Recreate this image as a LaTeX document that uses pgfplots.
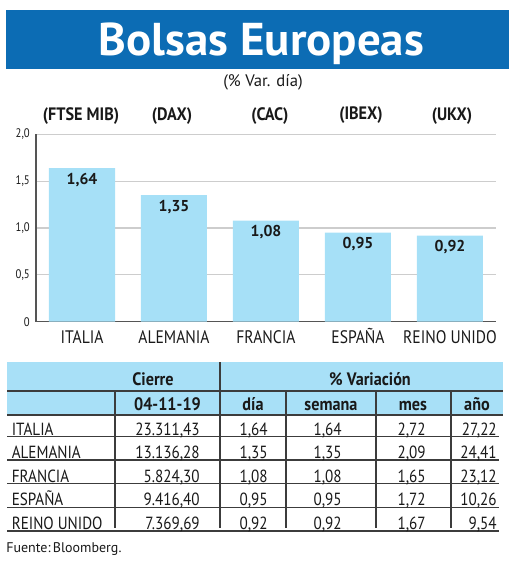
\documentclass[border=0pt]{standalone}
\usepackage{fontspec}
\setmainfont{PT Sans}
\newfontfamily\cond[FakeStretch=0.86]{PT Sans}
\newfontfamily\condb[FakeStretch=0.9]{PT Sans}
\usepackage{pgfplots}
\pgfplotsset{compat=1.18}
\definecolor{banner}{RGB}{12,108,180}
\definecolor{barblue}{RGB}{166,224,247}
\definecolor{headblue}{RGB}{168,224,247}
\definecolor{gridgray}{RGB}{205,205,205}
\definecolor{axisgray}{RGB}{85,85,85}
\definecolor{linegray}{RGB}{60,60,60}
\definecolor{txt}{RGB}{25,25,25}
\begin{document}
\begin{tikzpicture}
\path[use as bounding box] (0,0) rectangle (390pt,-421.5pt);
\begin{scope}[x=0.75pt,y=-0.75pt]
% banner
\fill[banner] (6,10) rectangle (509,69);
\node[anchor=base, text=white, inner sep=0pt, font=\fontsize{34.5}{36}\selectfont\bfseries] at (261.5,55) {\scalebox{1.02}[1]{Bolsas Europeas}};
\node[anchor=base, inner sep=0pt, text=txt, font=\fontsize{12.5}{13}\selectfont] at (263,86) {(\% Var. día)};
% index labels
\begin{scope}[every node/.style={anchor=base, inner sep=0pt, text=txt, font=\condb\bfseries\fontsize{13.5}{14}\selectfont}]
\node at (81,120.5) {(FTSE MIB)};
\node at (172,120.5) {(DAX)};
\node at (270,120.5) {(CAC)};
\node at (361,119) {(IBEX)};
\node at (452,120.5) {(UKX)};
\end{scope}
% table header
\fill[headblue] (7,362) rectangle (503,415);
\draw[linegray, line width=0.9pt] (7,391) -- (503,391);
\draw[linegray, line width=1.3pt] (7,415) -- (503,415);
\draw[linegray, line width=0.9pt] (220,362) -- (220,528);
\foreach \xx in {115,286,376,451} {\draw[linegray, line width=0.9pt] (\xx,391) -- (\xx,528);}
\foreach \yy in {436.5,460,483.7,507.3,531} {\draw[linegray, line width=1pt] (7,\yy) -- (499,\yy);}
\begin{scope}[every node/.style={anchor=base, inner sep=0pt, text=txt, font=\condb\bfseries\fontsize{13.5}{14}\selectfont}]
\node at (153,385.7) {Cierre};
\node at (370,385.7) {\% Variación};
\node at (167.5,410) {04-11-19};
\node at (253,410) {día};
\node at (331,410) {semana};
\node at (413,410) {mes};
\node at (477,410) {año};
\end{scope}
\begin{scope}[every node/.style={inner sep=0pt, text=txt, font=\cond\fontsize{13.2}{14}\selectfont}]
\node[anchor=base west] at (11.5,435) {ITALIA};
\node[anchor=base west] at (11.5,458.5) {ALEMANIA};
\node[anchor=base west] at (11.5,482.2) {FRANCIA};
\node[anchor=base west] at (11.5,505.8) {ESPAÑA};
\node[anchor=base west] at (11.5,529.5) {REINO UNIDO};
\node[anchor=base east] at (200,435) {23.311,43};
\node[anchor=base east] at (200,458.5) {13.136,28};
\node[anchor=base east] at (200,482.2) {5.824,30};
\node[anchor=base east] at (200,505.8) {9.416,40};
\node[anchor=base east] at (200,529.5) {7.369,69};
\node[anchor=base east] at (268,435) {1,64};
\node[anchor=base east] at (268,458.5) {1,35};
\node[anchor=base east] at (268,482.2) {1,08};
\node[anchor=base east] at (268,505.8) {0,95};
\node[anchor=base east] at (268,529.5) {0,92};
\node[anchor=base east] at (342,435) {1,64};
\node[anchor=base east] at (342,458.5) {1,35};
\node[anchor=base east] at (342,482.2) {1,08};
\node[anchor=base east] at (342,505.8) {0,95};
\node[anchor=base east] at (342,529.5) {0,92};
\node[anchor=base east] at (426,435) {2,72};
\node[anchor=base east] at (426,458.5) {2,09};
\node[anchor=base east] at (426,482.2) {1,65};
\node[anchor=base east] at (426,505.8) {1,72};
\node[anchor=base east] at (426,529.5) {1,67};
\node[anchor=base east] at (497,435) {27,22};
\node[anchor=base east] at (497,458.5) {24,41};
\node[anchor=base east] at (497,482.2) {23,12};
\node[anchor=base east] at (497,505.8) {10,26};
\node[anchor=base east] at (497,529.5) {9,54};
\end{scope}
\node[anchor=base west, inner sep=0pt, text=txt, font=\fontsize{10.5}{11}\selectfont] at (6,552.7) {Fuente:\,Bloomberg.};
\end{scope}
\begin{axis}[
  at={(27pt,-241.275pt)}, anchor=south west,
  scale only axis, width=345pt, height=140.55pt,
  xmin=-0.5, xmax=4.5, ymin=0, ymax=2,
  axis x line*=bottom, axis y line*=left,
  axis line style={-, draw=axisgray, line width=1pt},
  ymajorgrids, grid style={draw=gridgray, line width=0.8pt},
  xtick={0,1,2,3,4}, xticklabels={ITALIA,ALEMANIA,FRANCIA,ESPAÑA,REINO UNIDO},
  ytick={0,0.5,1,1.5,2}, yticklabels={0,{0,5},{1,0},{1,5},{2,0}},
  major tick length=0pt,
  xticklabel style={font=\cond\fontsize{13.6}{14}\selectfont, anchor=base, yshift=-16.7pt, inner sep=0pt, text=txt},
  yticklabel style={font=\cond\fontsize{9.3}{10}\selectfont, anchor=east, xshift=-4.5pt, inner sep=0pt, text=txt},
  clip=false,
]
\addplot[ybar, bar width=49.5pt, fill=barblue, draw=none,
  nodes near coords={\pgfmathprintnumber[assume math mode=true,use comma,fixed,fixed zerofill,precision=2]{\pgfplotspointmeta}},
  every node near coord/.append style={anchor=base, yshift=-12.2pt, inner sep=0pt, text=txt, font=\bfseries\fontsize{11.8}{12}\selectfont}]
  coordinates {(0,1.64) (1,1.35) (2,1.08) (3,0.95) (4,0.92)};
\end{axis}
\end{tikzpicture}
\end{document}
